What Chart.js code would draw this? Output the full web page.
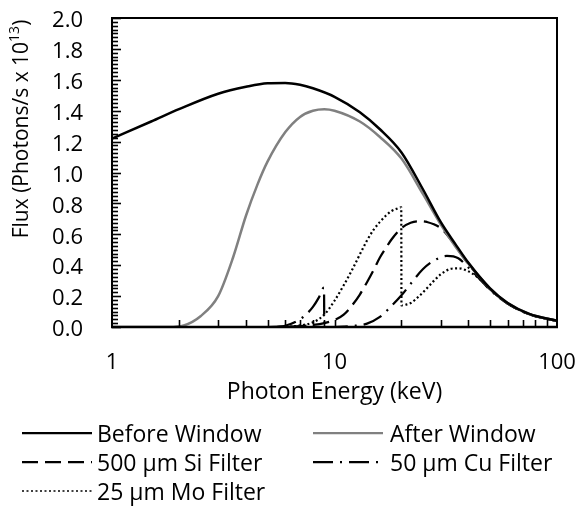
<!DOCTYPE html>
<html>
<head>
<meta charset="utf-8">
<script src="https://cdn.jsdelivr.net/npm/chart.js@4.4.1/dist/chart.umd.min.js"></script>
<style>
  html, body { margin: 0; padding: 0; background: #fff; }
  #wrap { position: relative; width: 580px; height: 509px; font-family: "Open Sans", sans-serif; }
  #leyenda { position: absolute; left: 0; top: 0; width: 580px; height: 509px; pointer-events: none; }
  .item { position: absolute; height: 28px; display: flex; align-items: center; font-size: 23px; color: #000; white-space: nowrap; }
</style>
</head>
<body>
<div id="wrap">
  <canvas id="grafico" width="580" height="509"></canvas>
  <div id="leyenda"></div>
</div>
<script>
// Espectro de flujo: antes/después de la ventana y con filtros (eje X logarítmico).
var beforeKeV  = [1, 1.5, 2, 3, 4, 5, 6, 7, 8, 10, 13, 16, 20, 25, 30, 35, 40, 50, 60, 75, 100];
var beforeFlux = [1.22, 1.33, 1.41, 1.51, 1.555, 1.578, 1.58, 1.568, 1.545, 1.49, 1.39, 1.28, 1.13, 0.89, 0.68, 0.535, 0.415, 0.25, 0.155, 0.085, 0.04];

var afterKeV  = [1, 1.8, 2.1, 2.5, 3, 3.5, 4, 4.5, 5, 6, 7, 8, 9, 10, 13, 16, 20, 25, 30, 35, 40, 50, 60, 75, 100];
var afterFlux = [0, 0, 0.01, 0.07, 0.2, 0.45, 0.72, 0.92, 1.07, 1.26, 1.36, 1.40, 1.41, 1.40, 1.33, 1.23, 1.09, 0.86, 0.665, 0.52, 0.41, 0.25, 0.155, 0.085, 0.04];

var siKeV  = [5, 6, 7, 8, 9, 10, 11, 12, 13, 14, 15, 16, 17, 18, 20, 22, 24, 26, 30, 34, 38, 42, 46, 50, 60, 75, 100];
var siFlux = [0, 0.002, 0.006, 0.013, 0.025, 0.045, 0.08, 0.14, 0.21, 0.29, 0.37, 0.45, 0.51, 0.565, 0.64, 0.675, 0.685, 0.68, 0.64, 0.55, 0.45, 0.37, 0.3, 0.245, 0.152, 0.083, 0.039];

var cuKeV  = [5.5, 6, 7, 7.5, 8, 8.5, 8.97, 9.0, 10, 11, 12, 14, 16, 18, 20, 22, 25, 28, 32, 36, 40, 45, 50, 60, 75, 100];
var cuFlux = [0, 0.008, 0.05, 0.085, 0.13, 0.19, 0.255, 0, 0, 0.002, 0.006, 0.022, 0.065, 0.135, 0.205, 0.28, 0.375, 0.43, 0.46, 0.445, 0.385, 0.31, 0.24, 0.152, 0.083, 0.039];

var moKeV  = [6, 7, 8, 9, 10, 11, 12, 13, 14, 15, 16, 17, 18, 19, 19.95, 20.0, 21, 22, 24, 26, 28, 30, 33, 36, 40, 45, 50, 60, 75, 100];
var moFlux = [0, 0.01, 0.03, 0.08, 0.17, 0.27, 0.37, 0.47, 0.56, 0.63, 0.68, 0.72, 0.75, 0.765, 0.775, 0.14, 0.145, 0.155, 0.2, 0.25, 0.3, 0.34, 0.375, 0.38, 0.36, 0.31, 0.245, 0.152, 0.083, 0.039];

var etiquetas = ['Before Window', 'After Window', '500 \u00b5m Si Filter', '50 \u00b5m Cu Filter', '25 \u00b5m Mo Filter'];

var xTickValues = [1, 10, 100];
var xTickLabels = ['1', '10', '100'];
var xMinorTicks = [2, 3, 4, 5, 6, 7, 8, 9, 10, 20, 30, 40, 50, 60, 70, 80, 90];
var yTickValues = [0, 0.2, 0.4, 0.6, 0.8, 1.0, 1.2, 1.4, 1.6, 1.8, 2.0];
var yTickLabels = ['0.0', '0.2', '0.4', '0.6', '0.8', '1.0', '1.2', '1.4', '1.6', '1.8', '2.0'];
var tituloX = 'Photon Energy (keV)';
var tituloY = ['Flux (Photons/s x 10', '13', ')'];

var FUENTE = 'Open Sans';

function puntos(xs, ys) { return xs.map(function (x, i) { return { x: x, y: ys[i] }; }); }

var estilos = [
  { color: '#000000', dash: [], ancho: 2.5 },
  { color: '#808080', dash: [], ancho: 2.5 },
  { color: '#000000', dash: [16, 7], ancho: 2.25 },
  { color: '#000000', dash: [20, 7, 2, 7], ancho: 2.25 },
  { color: '#000000', dash: [2, 2.5], ancho: 2.2 }
];
var series = [puntos(beforeKeV, beforeFlux), puntos(afterKeV, afterFlux), puntos(siKeV, siFlux), puntos(cuKeV, cuFlux), puntos(moKeV, moFlux)];

var datasets = series.map(function (d, i) {
  return {
    label: etiquetas[i], data: d,
    borderColor: estilos[i].color, borderDash: estilos[i].dash,
    borderWidth: estilos[i].ancho, fill: false, pointRadius: 0,
    cubicInterpolationMode: 'monotone'
  };
});

// ejes estilo Excel: marco, marcas internas y título Y con superíndice
var ejes = {
  id: 'ejes',
  afterDatasetsDraw: function (chart) {
    var ctx = chart.ctx, a = chart.chartArea, xs = chart.scales.x, ys = chart.scales.y;
    ctx.save();
    ctx.strokeStyle = '#000';
    ctx.lineWidth = 1.6;
    for (var i = 0; i <= 80; i++) {
      var py = Math.round(ys.getPixelForValue(i * 0.025)) + 0.5;
      var len = i % 8 === 0 ? 9 : 6;
      ctx.beginPath(); ctx.moveTo(a.left, py); ctx.lineTo(a.left + len, py); ctx.stroke();
    }
    xMinorTicks.forEach(function (v) {
      var px = Math.round(xs.getPixelForValue(v)) + 0.5;
      ctx.beginPath(); ctx.moveTo(px, a.bottom); ctx.lineTo(px, a.bottom - 7); ctx.stroke();
    });
    ctx.lineWidth = 2;
    ctx.strokeRect(a.left, a.top, a.right - a.left, a.bottom - a.top);
    ctx.lineWidth = 2.5;
    ctx.beginPath(); ctx.moveTo(a.left - 1, a.bottom); ctx.lineTo(a.right + 1, a.bottom); ctx.stroke();
    ctx.restore();
  },
  afterDraw: function (chart) {
    var ctx = chart.ctx;
    ctx.save();
    ctx.translate(22, 129);
    ctx.rotate(-Math.PI / 2);
    ctx.fillStyle = '#000';
    ctx.textBaseline = 'middle';
    var grande = '21px "' + FUENTE + '"', chica = '14px "' + FUENTE + '"';
    ctx.font = grande;
    var w1 = ctx.measureText(tituloY[0]).width, w3 = ctx.measureText(tituloY[2]).width;
    ctx.font = chica;
    var w2 = ctx.measureText(tituloY[1]).width;
    var x0 = -(w1 + w2 + w3) / 2;
    ctx.font = grande; ctx.fillText(tituloY[0], x0, 0);
    ctx.font = chica; ctx.fillText(tituloY[1], x0 + w1, -7);
    ctx.font = grande; ctx.fillText(tituloY[2], x0 + w1 + w2, 0);
    ctx.restore();
  }
};

new Chart(document.getElementById('grafico').getContext('2d'), {
  type: 'line',
  data: { datasets: datasets },
  options: {
    responsive: false, animation: false,
    layout: { padding: { left: 0, top: 18, right: 23, bottom: 102 } },
    plugins: { legend: { display: false }, tooltip: { enabled: false } },
    scales: {
      x: {
        type: 'logarithmic', min: 1, max: 100,
        grid: { display: false, drawTicks: false }, border: { display: false },
        afterBuildTicks: function (s) { s.ticks = xTickValues.map(function (v) { return { value: v }; }); },
        afterFit: function (s) { s.height = 80; s.paddingLeft = 0; s.paddingRight = 0; },
        ticks: {
          padding: 23, color: '#000', autoSkip: false, maxRotation: 0,
          font: { family: FUENTE, size: 22 },
          callback: function (v, i) { return xTickLabels[i]; }
        },
        title: { display: true, text: tituloX, color: '#000', font: { family: FUENTE, size: 23 }, padding: { top: 0, bottom: 1 } }
      },
      y: {
        min: 0, max: 2,
        grid: { display: false, drawTicks: false }, border: { display: false },
        afterBuildTicks: function (s) { s.ticks = yTickValues.map(function (v) { return { value: v }; }); },
        afterFit: function (s) { s.width = 112; s.paddingTop = 0; s.paddingBottom = 0; },
        ticks: {
          padding: 29, labelOffset: 3, color: '#000', autoSkip: false,
          font: { family: FUENTE, size: 22 },
          callback: function (v, i) { return yTickLabels[i]; }
        }
      }
    }
  },
  plugins: [ejes]
});

// leyenda en HTML, dos columnas como en el original
var posLeyenda = [[22, 433, 5], [313, 433, 7], [22, 462, 5], [313, 462, 7], [22, 491, 5]];
var cont = document.getElementById('leyenda');
etiquetas.forEach(function (txt, i) {
  var e = estilos[i], p = posLeyenda[i];
  var div = document.createElement('div');
  div.className = 'item';
  div.style.left = p[0] + 'px';
  div.style.top = (p[1] - 14) + 'px';
  div.innerHTML = '<svg width="70" height="10" style="margin-right:' + p[2] + 'px"><line x1="0" y1="5" x2="70" y2="5" stroke="' + e.color + '" stroke-width="' + (i === 4 ? 1.6 : 2.25) + '"' +
    (e.dash.length ? ' stroke-dasharray="' + e.dash.join(' ') + '"' : '') + '/></svg><span>' + txt + '</span>';
  cont.appendChild(div);
});
</script>
</body>
</html>
